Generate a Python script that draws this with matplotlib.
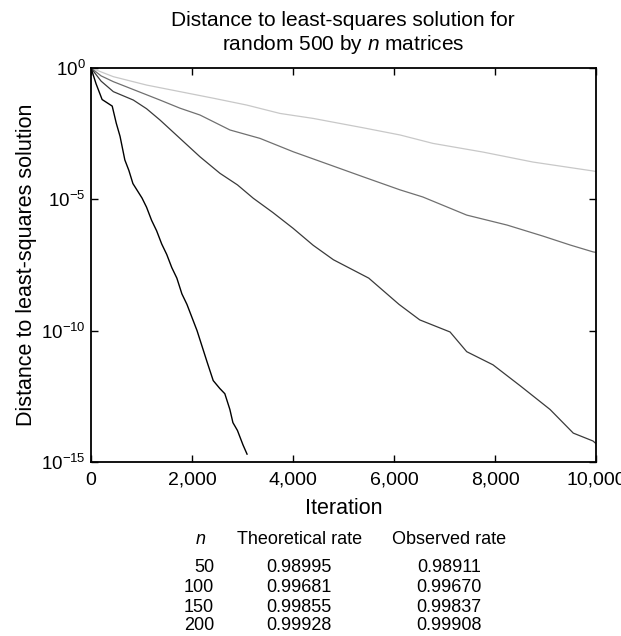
import matplotlib
matplotlib.use("Agg")
import matplotlib.pyplot as plt
import numpy as np
from matplotlib.ticker import FuncFormatter, LogFormatterSciNotation

plt.rcParams['font.family'] = ['Liberation Sans', 'DejaVu Sans']
plt.rcParams['mathtext.fontset'] = 'custom'
plt.rcParams['mathtext.rm'] = 'Liberation Sans'
plt.rcParams['mathtext.it'] = 'Liberation Sans:italic'
plt.rcParams['mathtext.bf'] = 'Liberation Sans:bold'

# ---- data (log10 of distance) ----
it_50 = [0, 100, 220, 420, 500, 575, 670, 750, 830, 1010, 1100, 1200, 1300, 1400, 1500,
         1600, 1700, 1800, 1900, 2000, 2100, 2200, 2300, 2420, 2550, 2650, 2750, 2810,
         2900, 3010, 3090]
log_50 = [0.0, -0.6, -1.2, -1.45, -2.1, -2.6, -3.5, -3.9, -4.4, -4.95, -5.3, -5.8, -6.2,
          -6.7, -7.1, -7.6, -8.0, -8.6, -9.0, -9.5, -10.0, -10.6, -11.2, -11.9, -12.2,
          -12.4, -13.0, -13.5, -13.8, -14.35, -14.7]

it_100 = [0, 200, 442, 838, 1100, 1366, 1762, 2158, 2554, 2900, 3214, 3600, 4000, 4400,
          4800, 5200, 5500, 5800, 6100, 6510, 7110, 7440, 7960, 8500, 9090, 9550, 9940, 10000]
log_100 = [0.0, -0.5, -0.9, -1.22, -1.55, -1.98, -2.68, -3.38, -4.01, -4.45, -4.96, -5.5,
           -6.1, -6.75, -7.3, -7.7, -8.0, -8.5, -9.0, -9.59, -10.05, -10.8, -11.3, -12.1,
           -13.0, -13.9, -14.2, -14.3]

it_150 = [0, 200, 442, 772, 1366, 1762, 2158, 2752, 3347, 4006, 4733, 5400, 6120, 6570,
          7440, 8240, 8950, 9490, 9940, 10000]
log_150 = [0.0, -0.3, -0.52, -0.77, -1.22, -1.53, -1.79, -2.36, -2.68, -3.19, -3.69, -4.15,
           -4.64, -4.91, -5.6, -5.98, -6.4, -6.74, -7.0, -7.02]

it_200 = [0, 442, 1102, 1762, 2422, 3082, 3743, 4402, 4733, 5400, 6120, 6770, 7760, 8750,
          9940, 10000]
log_200 = [0.0, -0.33, -0.65, -0.90, -1.15, -1.41, -1.73, -1.92, -2.04, -2.28, -2.55, -2.87,
           -3.2, -3.58, -3.92, -3.94]

n_vals = ["50", "100", "150", "200"]
theoretical = ["0.98995", "0.99681", "0.99855", "0.99928"]
observed = ["0.98911", "0.99670", "0.99837", "0.99908"]

W, H = 621, 636
fig = plt.figure(figsize=(W / 100, H / 100), dpi=100)
ax = fig.add_axes([91 / W, 1 - 462 / H, (596 - 91) / W, (462 - 68) / H])

ax.plot(it_200, 10 ** np.array(log_200), color='#c8c8c8', lw=0.9)
ax.plot(it_150, 10 ** np.array(log_150), color='#707070', lw=0.9)
ax.plot(it_100, 10 ** np.array(log_100), color='#3a3a3a', lw=0.9)
ax.plot(it_50, 10 ** np.array(log_50), color='#000000', lw=1.0)

ax.set_yscale('log')
ax.set_xlim(0, 10000)
ax.set_ylim(1e-15, 1)
ax.set_yticks([1, 1e-5, 1e-10, 1e-15])
ax.minorticks_off()
ax.yaxis.set_major_formatter(LogFormatterSciNotation())
ax.set_xticks([0, 2000, 4000, 6000, 8000, 10000])
ax.xaxis.set_major_formatter(FuncFormatter(lambda v, p: f"{int(v):,}"))
ax.tick_params(axis='both', which='both', direction='in', top=True, right=True,
               length=5, width=1.0)
ax.tick_params(axis='x', pad=7, labelsize=14)
ax.tick_params(axis='y', pad=4, labelsize=13.5)
for s in ax.spines.values():
    s.set_linewidth(1.3)

ax.set_xlabel("Iteration", fontsize=15.5, labelpad=7)
ax.set_ylabel("Distance to least-squares solution", fontsize=15.5, labelpad=3)

fig.text(343 / W, 1 - 20 / H, "Distance to least-squares solution for",
         ha='center', va='center', fontsize=15)
fig.text(343 / W, 1 - 45 / H, "random 500 by $n$ matrices",
         ha='center', va='center', fontsize=15)

# table
ty0 = 540
fs = 13
fig.text(201 / W, 1 - ty0 / H, "$n$", ha='center', va='center', fontsize=fs)
fig.text(300 / W, 1 - ty0 / H, "Theoretical rate", ha='center', va='center', fontsize=fs)
fig.text(449 / W, 1 - ty0 / H, "Observed rate", ha='center', va='center', fontsize=fs)
rows_y = [567, 587, 607, 626]
for nv, tv, ov, yy in zip(n_vals, theoretical, observed, rows_y):
    fig.text(214 / W, 1 - yy / H, nv, ha='right', va='center', fontsize=fs)
    fig.text(299 / W, 1 - yy / H, tv, ha='center', va='center', fontsize=fs)
    fig.text(449 / W, 1 - yy / H, ov, ha='center', va='center', fontsize=fs)

fig.savefig("out.png", dpi=100)
